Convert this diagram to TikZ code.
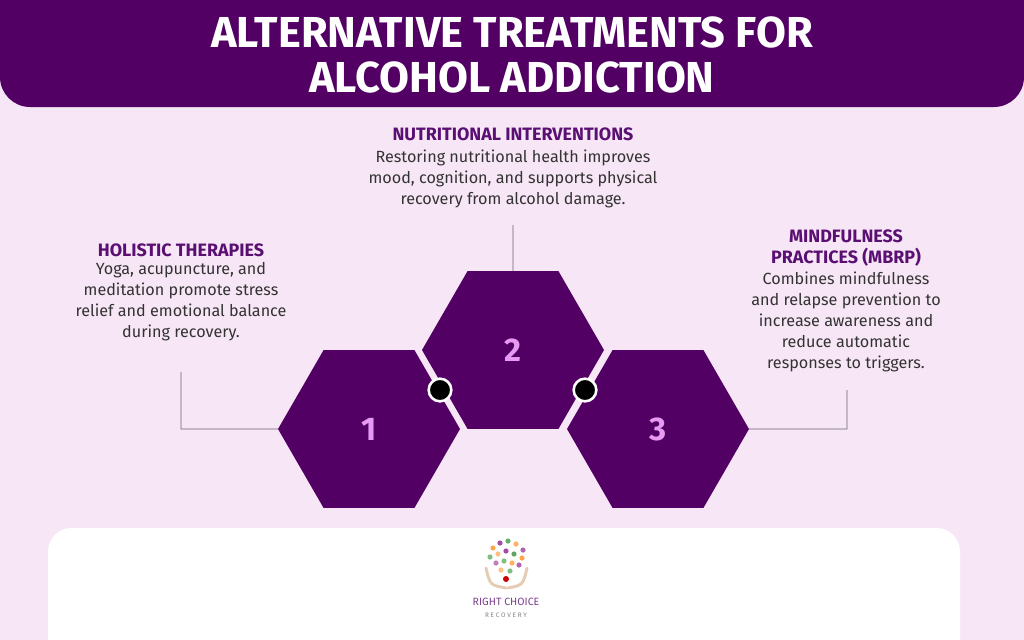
\documentclass[tikz,border=0pt]{standalone}
\usepackage{fontspec}
\setmainfont{Fira Sans}
\usetikzlibrary{shapes.geometric}
\definecolor{deeppurple}{HTML}{530065}
\definecolor{paleback}{HTML}{F7E6F6}
\definecolor{headtext}{HTML}{5A0F72}
\definecolor{numpink}{HTML}{E69AF2}
\definecolor{bodygray}{HTML}{333333}
\tikzset{
  hexa/.style={regular polygon,regular polygon sides=6,shape border rotate=0,
    fill=deeppurple,minimum size=5.46cm,inner sep=0pt,outer sep=0pt,
    text=numpink,font=\bfseries\fontsize{28}{28}\selectfont},
  joint/.style={circle,fill=black,draw=white,line width=2.2pt,minimum size=0.68cm,inner sep=0pt},
  heading/.style={text=headtext,font=\bfseries\fontsize{15.3}{17.8}\selectfont,align=center},
  body/.style={text=bodygray,font=\fontsize{13.8}{17.8}\selectfont,align=center},
  leader/.style={draw=gray!80!black,line width=0.5pt}
}
\begin{document}
\begin{tikzpicture}[x=0.03cm,y=-0.03cm]
\useasboundingbox (0,0) rectangle (1024,640);
\fill[paleback] (0,0) rectangle (1024,640);
% header band
\fill[deeppurple,rounded corners=0.9cm] (0,-30) rectangle (1024,107);
\node[text=white,font=\bfseries\fontsize{37}{38}\selectfont,align=center] (title) at (512,55)
  {ALTERNATIVE TREATMENTS FOR\\ALCOHOL ADDICTION};
% footer card
\fill[white,rounded corners=0.7cm] (48,528) rectangle (960,680);

% hexagons
\node[hexa] (h1) at (369,429) {1};
\node[hexa] (h2) at (513,350) {2};
\node[hexa] (h3) at (658,429) {3};
\node[joint] (j12) at (440,390) {};
\node[joint] (j23) at (585,390) {};

% leaders
\coordinate (c1) at (181,429);
\coordinate (e1) at (181,372);
\coordinate (e2) at (513,225);
\coordinate (c3) at (847,429);
\coordinate (e3) at (847,390);
\draw[leader] (h1.west) -- (c1) -- (e1);
\draw[leader] (h2.north) -- (e2);
\draw[leader] (h3.east) -- (c3) -- (e3);

% texts
\node[heading] (t2) at (513,134) {NUTRITIONAL INTERVENTIONS};
\node[body,below=1pt] (b2) at (t2.south) {Restoring nutritional health improves\\mood, cognition, and supports physical\\recovery from alcohol damage.};
\node[heading] (t1) at (181,250) {HOLISTIC THERAPIES};
\node[body,below=-2pt] (b1) at (t1.south) {Yoga, acupuncture, and\\meditation promote stress\\relief and emotional balance\\during recovery.};
\node[heading] (t3) at (846,248) {MINDFULNESS\\PRACTICES (MBRP)};
\node[body,below=-2pt] (b3) at (t3.south) {Combines mindfulness\\and relapse prevention to\\increase awareness and\\reduce automatic\\responses to triggers.};

% logo
\foreach \px/\py/\col in {493/548/orange!70,500/543/violet!70,508/541/green!50!black!60,516/544/orange!60,
  523/550/violet!60,490/557/green!50!black!50,498/554/orange!50,506/551/violet!70,514/554/green!40!black!60,
  522/558/orange!70,496/563/violet!50,504/561/green!50!black!50,512/563/orange!60,519/565/violet!60,
  501/570/orange!50,510/571/green!50!black!50}
  \fill[\col] (\px,\py) circle (2.6);
\fill[red!80!black] (506,579) circle (3);
\draw[brown!40,line width=2.5pt,line cap=round] (486,568) .. controls (490,585) .. (506,588);
\draw[brown!40,line width=2.5pt,line cap=round] (527,568) .. controls (523,585) .. (508,588);
\node[text=headtext!80,font=\fontsize{9}{10}\selectfont] (logo) at (506,602) {RIGHT CHOICE};
\node[text=gray,font=\fontsize{5.5}{6}\selectfont] (logosub) at (506,615) {R\ E\ C\ O\ V\ E\ R\ Y};
\end{tikzpicture}
\end{document}
